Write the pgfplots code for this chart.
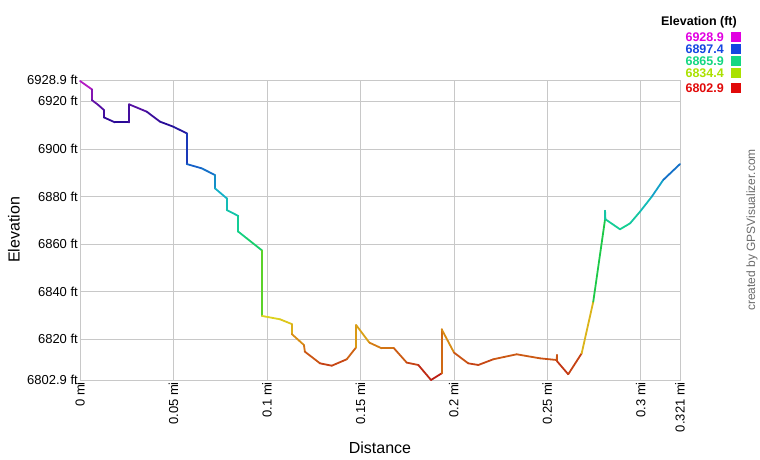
\documentclass[border=0pt]{standalone}
\usepackage{pgfplots}
\pgfplotsset{compat=1.18}
\usepackage{fontspec}
\setmainfont{Liberation Sans}
\definecolor{gridgray}{RGB}{200,200,200}
\definecolor{lmag}{RGB}{225,0,225}
\definecolor{lblue}{RGB}{20,70,225}
\definecolor{lteal}{RGB}{20,215,130}
\definecolor{lyg}{RGB}{170,225,0}
\definecolor{lred}{RGB}{225,10,10}
\begin{document}
\begin{tikzpicture}
\path[use as bounding box] (-80pt,-80pt) rectangle (680pt,380pt);
\begin{axis}[
  at={(0,0)}, anchor=south west,
  scale only axis, width=600pt, height=300pt,
  xmin=0, xmax=0.321, ymin=6802.9, ymax=6928.9,
  axis line style={gridgray},
  grid=major, grid style={gridgray, line width=0.6pt},
  major tick length=0pt,
  xtick={0,0.05,0.1,0.15,0.2,0.25,0.3,0.321},
  xticklabels={0 mi,0.05 mi,0.1 mi,0.15 mi,0.2 mi,0.25 mi,0.3 mi,0.321 mi},
  x tick label style={rotate=90, anchor=east, font=\fontsize{13}{15}\selectfont, inner sep=2pt},
  ytick={6802.9,6820,6840,6860,6880,6900,6920,6928.9},
  yticklabels={6802.9 ft,6820 ft,6840 ft,6860 ft,6880 ft,6900 ft,6920 ft,6928.9 ft},
  y tick label style={font=\fontsize{13}{15}\selectfont, inner sep=2pt},
  colormap={elev}{rgb255(0pt)=(185,20,20); rgb255(8pt)=(200,75,20); rgb255(16pt)=(215,135,20);
    rgb255(26pt)=(222,210,30); rgb255(32pt)=(165,222,20); rgb255(48pt)=(30,200,60);
    rgb255(63pt)=(20,210,140); rgb255(78pt)=(20,180,200); rgb255(92pt)=(20,80,200);
    rgb255(108pt)=(40,10,150); rgb255(118pt)=(110,20,170); rgb255(126pt)=(205,30,205)},
  point meta min=6802.9, point meta max=6928.9,
  clip=false,
]
\addplot[mesh, point meta=y, line width=1.8pt, line join=round, line cap=round] coordinates {
(0,6928.5) (0.0063,6925.0) (0.0063,6920.5) (0.0098,6918.4) (0.0128,6916.3) (0.0128,6913.2)
(0.0187,6911.1) (0.0262,6911.1) (0.0262,6918.7) (0.0357,6915.6) (0.0428,6911.4) (0.0499,6909.3)
(0.0571,6906.5) (0.0571,6893.6) (0.0651,6891.8) (0.0722,6889.0) (0.0722,6883.4) (0.0785,6879.2)
(0.0785,6874.3) (0.0847,6871.8) (0.0847,6865.2) (0.0892,6862.4) (0.0974,6857.3) (0.0974,6829.8)
(0.107,6828.4) (0.1133,6826.4) (0.1133,6822.2) (0.1198,6817.6) (0.1203,6814.8) (0.1284,6809.9)
(0.1347,6808.9) (0.1427,6811.6) (0.1477,6816.6) (0.1477,6826.0) (0.1548,6818.6) (0.1614,6816.2)
(0.168,6816.2) (0.1748,6810.2) (0.181,6809.2) (0.1878,6802.9) (0.1935,6805.7) (0.1935,6824.2)
(0.2001,6814.4) (0.2077,6809.9) (0.2131,6809.2) (0.2211,6811.6) (0.2336,6813.7) (0.2461,6812.0)
(0.2550,6811.3) (0.2552,6813.4) (0.2552,6810.8) (0.2612,6805.3) (0.2684,6814.1) (0.2746,6835.8)
(0.2809,6870.4) (0.2809,6874.0) (0.2811,6870.4) (0.2889,6866.2) (0.2943,6868.7) (0.2996,6873.6)
(0.3059,6879.9) (0.312,6886.9) (0.321,6893.6)
};
\end{axis}
% axis titles
\node[font=\fontsize{16}{18}\selectfont] at (300pt,-68pt) {Distance};
\node[rotate=90, font=\fontsize{16}{18}\selectfont] at (-66pt,150pt) {Elevation};
% legend (colour scale)
\begin{scope}[every node/.style={font=\bfseries\fontsize{12.5}{13}\selectfont, inner sep=0pt}]
\node[anchor=east] at (657pt,358pt) {Elevation (ft)};
\foreach \v/\c/\yy in {6928.9/lmag/343, 6897.4/lblue/331, 6865.9/lteal/319, 6834.4/lyg/307, 6802.9/lred/292}{
  \node[anchor=east, text=\c] at (644pt,\yy pt) {\v};
  \fill[\c] (651pt,\yy pt-5pt) rectangle +(10pt,10pt);
}
\end{scope}
\node[rotate=90, text=gray!85!black, font=\fontsize{12}{14}\selectfont] at (672pt,150pt) {created by GPSVisualizer.com};
\end{tikzpicture}
\end{document}
